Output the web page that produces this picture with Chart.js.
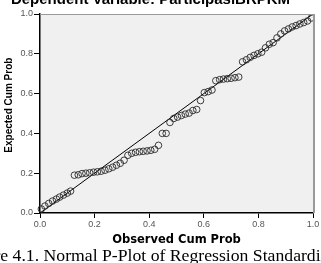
<!DOCTYPE html>
<html>
<head>
<meta charset="utf-8">
<script src="https://cdn.jsdelivr.net/npm/chart.js@4/dist/chart.umd.min.js"></script>
<style>
  html, body { margin: 0; padding: 0; background: #fff; overflow: hidden; }
  #wrap { position: relative; width: 321px; height: 263px; overflow: hidden; }
  canvas { position: absolute; left: 0; top: 0; }
  #title { position: absolute; left: -10px; width: 321px; top: -9px; text-align: center;
           font: bold 15px "Liberation Sans", Arial, sans-serif; line-height: 15px; color: #000; white-space: nowrap; }
  #caption { position: absolute; left: -38px; top: 245px; white-space: nowrap;
             font: 17.7px "Liberation Serif", "Times New Roman", serif; line-height: 20px; color: #000; }
</style>
</head>
<body>
<div id="wrap">
  <canvas id="c" width="321" height="263"></canvas>
  <div id="title">Dependent Variable: ParticipasiBRPKM</div>
  <div id="caption">Figure 4.1. Normal P-Plot of Regression Standardized Residual</div>
</div>
<script>
// Observed cumulative probability (x)
const observedCumProb = [
  0.005, 0.018, 0.032, 0.046, 0.060, 0.072, 0.086, 0.100, 0.112,
  0.126, 0.140, 0.154, 0.168, 0.182, 0.196, 0.210, 0.224, 0.238, 0.252,
  0.266, 0.280, 0.294, 0.308, 0.322, 0.336, 0.350, 0.364, 0.378, 0.392,
  0.406, 0.420, 0.434, 0.448, 0.462, 0.476, 0.490, 0.504, 0.518, 0.532,
  0.546, 0.560, 0.574, 0.588, 0.602, 0.616, 0.630, 0.644, 0.658, 0.672,
  0.686, 0.700, 0.714, 0.728, 0.742, 0.756, 0.770, 0.784, 0.798, 0.812,
  0.826, 0.840, 0.854, 0.868, 0.882, 0.896, 0.910, 0.924, 0.938, 0.952,
  0.966, 0.980, 0.994
];
// Expected cumulative probability (y)
const expectedCumProb = [
  0.020, 0.035, 0.048, 0.060, 0.070, 0.080, 0.090, 0.100, 0.110,
  0.190, 0.192, 0.198, 0.200, 0.202, 0.205, 0.207, 0.210, 0.215, 0.222,
  0.230, 0.240, 0.250, 0.265, 0.290, 0.300, 0.305, 0.308, 0.310, 0.312,
  0.315, 0.320, 0.340, 0.400, 0.400, 0.455, 0.475, 0.482, 0.490, 0.497,
  0.502, 0.515, 0.520, 0.565, 0.605, 0.610, 0.618, 0.665, 0.670, 0.673,
  0.675, 0.677, 0.680, 0.683, 0.760, 0.770, 0.782, 0.792, 0.800, 0.808,
  0.830, 0.848, 0.856, 0.880, 0.900, 0.915, 0.925, 0.935, 0.942, 0.950,
  0.957, 0.965, 0.980
];
// Reference diagonal
const diagonalX = [0, 1];
const diagonalY = [0, 1];
// Axis ticks
const tickValues = [0.0, 0.2, 0.4, 0.6, 0.8, 1.0];

const xAxisTitle = "Observed Cum Prob";
const yAxisTitle = "      Expected Cum Prob";

const points = observedCumProb.map((x, i) => ({ x: x, y: expectedCumProb[i] }));
const diag = diagonalX.map((x, i) => ({ x: x, y: diagonalY[i] }));

const framePlugin = {
  id: 'frame',
  beforeDraw(chart) {
    const { ctx, chartArea: a } = chart;
    ctx.save();
    ctx.fillStyle = '#f0f0f0';
    ctx.fillRect(a.left, a.top, a.right - a.left, a.bottom - a.top);
    ctx.restore();
  },
  afterDraw(chart) {
    const { ctx, chartArea: a } = chart;
    ctx.save();
    ctx.strokeStyle = '#9a9a9a';
    ctx.lineWidth = 1;
    ctx.beginPath();
    ctx.moveTo(a.left, a.top + 0.5);
    ctx.lineTo(a.right, a.top + 0.5);
    ctx.stroke();
    ctx.lineWidth = 2;
    ctx.beginPath();
    ctx.moveTo(a.right + 1, a.top);
    ctx.lineTo(a.right + 1, a.bottom);
    ctx.stroke();
    ctx.restore();
  }
};

new Chart(document.getElementById('c'), {
  type: 'scatter',
  data: {
    datasets: [
      {
        type: 'line',
        data: diag,
        borderColor: '#000',
        borderWidth: 1,
        pointRadius: 0,
        fill: false,
        tension: 0,
        order: 2
      },
      {
        data: points,
        pointStyle: 'circle',
        pointRadius: 3.3,
        pointBorderWidth: 0.9,
        pointBorderColor: '#2a2a2a',
        pointBackgroundColor: 'rgba(0,0,0,0)',
        clip: 5,
        order: 1
      }
    ]
  },
  plugins: [framePlugin],
  options: {
    responsive: false,
    animation: false,
    events: [],
    layout: { padding: { top: 14, right: 8, bottom: 16, left: 0 } },
    plugins: { legend: { display: false }, tooltip: { enabled: false }, title: { display: false } },
    scales: {
      x: {
        type: 'linear',
        min: 0, max: 1,
        afterBuildTicks(scale) { scale.ticks = tickValues.map(v => ({ value: v })); },
        afterFit(scale) { scale.height = 34; },
        ticks: {
          callback: v => v.toFixed(1),
          font: { family: 'Liberation Sans', size: 9 },
          color: '#555',
          padding: 1,
          maxRotation: 0
        },
        grid: { drawOnChartArea: false, color: '#000', tickLength: 5, lineWidth: 1 },
        border: { display: true, color: '#000', width: 1.5 },
        title: {
          display: true,
          text: xAxisTitle,
          font: { family: 'DejaVu Sans', size: 11.5, weight: 'bold' },
          color: '#000',
          padding: { top: 0, bottom: 0 }
        }
      },
      y: {
        type: 'linear',
        min: 0, max: 1,
        afterBuildTicks(scale) { scale.ticks = tickValues.map(v => ({ value: v })); },
        afterFit(scale) { scale.width = 40; },
        ticks: {
          callback: v => v.toFixed(1),
          font: { family: 'Liberation Sans', size: 9 },
          color: '#555',
          padding: 1
        },
        grid: { drawOnChartArea: false, color: '#000', tickLength: 6, lineWidth: 1 },
        border: { display: true, color: '#000', width: 1.5 },
        title: {
          display: true,
          text: yAxisTitle,
          font: { family: 'Liberation Sans', size: 10, weight: 'bold' },
          color: '#000',
          padding: { top: 3, bottom: 0 }
        }
      }
    }
  }
});
</script>
</body>
</html>
